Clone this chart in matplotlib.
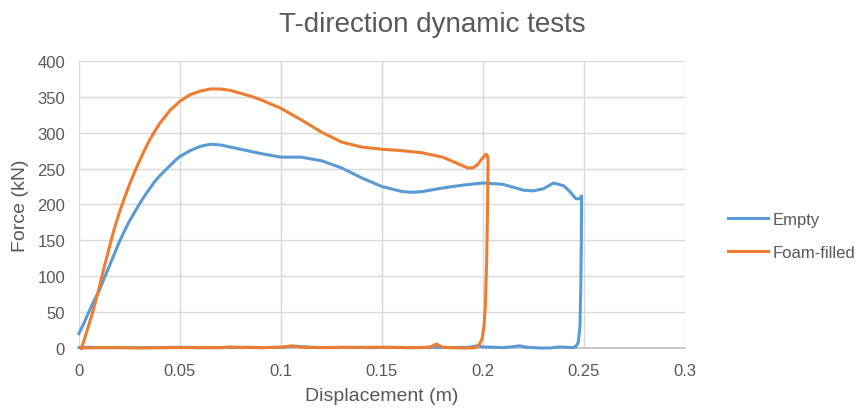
import matplotlib
matplotlib.use("Agg")
import matplotlib.pyplot as plt

plt.rcParams["font.family"] = ["Liberation Sans", "DejaVu Sans"]

# ── data (displacement in m, force in kN) ──
# Empty: loading branch, sudden drop, then return along ~0
empty_x = [0, 0.0025, 0.005, 0.0075, 0.01, 0.0125, 0.015, 0.0175, 0.02, 0.0225,
           0.025, 0.0275, 0.03, 0.0325, 0.035, 0.0375, 0.04, 0.0425, 0.045, 0.0475,
           0.05, 0.055, 0.06, 0.065, 0.07, 0.075, 0.08, 0.09, 0.1, 0.11,
           0.12, 0.13, 0.14, 0.15, 0.16, 0.165, 0.17, 0.18, 0.19, 0.2,
           0.205, 0.21, 0.215, 0.22, 0.225, 0.23, 0.235, 0.24, 0.243, 0.246,
           0.2478, 0.2488,
           0.2487, 0.2484, 0.248, 0.2472, 0.246, 0.2445,
           0.238, 0.233, 0.228, 0.222, 0.218, 0.214, 0.21, 0.205, 0.2, 0.197,
           0.193, 0.185, 0.175, 0.165, 0.155, 0.145, 0.135, 0.125, 0.115, 0.107,
           0.1, 0.09, 0.08, 0.07, 0.06, 0.05, 0.04, 0.03, 0.02, 0.01, 0.005, 0]
empty_f = [20, 35, 51, 66, 80, 97, 114, 131, 148, 163,
           177, 189, 201, 212, 222, 232, 240, 247, 254, 261,
           267, 275, 281, 284, 283, 280, 277, 271, 266, 266,
           261, 251, 237, 225, 218, 217, 218, 223, 227, 230,
           229, 228, 224, 220, 219, 222, 230, 226, 218, 208,
           208, 212,
           150, 80, 30, 8, 2, 0.5,
           1.5, 0, 0, 1, 3, 1.5, 0.5, 1, 1.5, 3,
           1, 0.5, 1, 0.5, 1, 0.5, 1, 0.5, 1, 2.5,
           1, 0.5, 1, 0.5, 0.5, 1, 0.5, 0.5, 0.5, 0.5, 1, 0.5]

# Foam-filled
foam_x = [0.0013, 0.004, 0.007, 0.01, 0.0125, 0.015, 0.0175, 0.02, 0.0225, 0.025,
          0.0275, 0.03, 0.0325, 0.035, 0.0375, 0.04, 0.045, 0.05, 0.055, 0.06,
          0.065, 0.07, 0.075, 0.08, 0.085, 0.09, 0.1, 0.11, 0.12, 0.13,
          0.14, 0.15, 0.16, 0.17, 0.18, 0.185, 0.19, 0.1925, 0.195, 0.1975,
          0.199, 0.2005, 0.2015, 0.2022, 0.2025,
          0.2023, 0.2018, 0.2012, 0.2005, 0.1995, 0.198, 0.1965, 0.195,
          0.19, 0.185, 0.18, 0.177, 0.174, 0.17, 0.16, 0.15, 0.14, 0.135,
          0.13, 0.12, 0.11, 0.105, 0.1, 0.09, 0.085, 0.08, 0.075, 0.07,
          0.06, 0.05, 0.04, 0.03, 0.02, 0.01, 0.0013]
foam_f = [0, 24, 52, 84, 113, 140, 166, 189, 209, 228,
          245, 261, 276, 290, 302, 313, 331, 344, 353, 358,
          361, 361, 359, 355, 351, 346, 334, 318, 301, 287,
          280, 277, 275, 272, 266, 260, 254, 251, 251, 256,
          262, 267, 270, 268, 262,
          200, 120, 60, 30, 12, 4, 1, 0,
          0, 0.5, 1, 5.5, 1.5, 0.5, 0.5, 1, 1, 0.5,
          1, 0.5, 1, 3, 1, 0.5, 1, 0.5, 1.5, 0.5,
          0.5, 0.5, 0.5, 0, 0.5, 0.5, 0]

x_ticks = [0, 0.05, 0.1, 0.15, 0.2, 0.25, 0.3]
x_tick_labels = ["0", "0.05", "0.1", "0.15", "0.2", "0.25", "0.3"]
y_ticks = [0, 50, 100, 150, 200, 250, 300, 350, 400]

text_col = "#595959"
grid_col = "#D9D9D9"

fig = plt.figure(figsize=(8.64, 4.10), dpi=100)
ax = fig.add_axes([0.0914, 0.1488, 0.7014, 0.70])

ax.plot(empty_x, empty_f, color="#5B9BD5", lw=2.2, label="Empty",
        clip_on=False, solid_joinstyle="round", zorder=3)
ax.plot(foam_x, foam_f, color="#ED7D31", lw=2.2, label="Foam-filled",
        clip_on=False, solid_joinstyle="round", zorder=4)

ax.set_xlim(0, 0.3)
ax.set_ylim(0, 400)
ax.set_xticks(x_ticks)
ax.set_xticklabels(x_tick_labels)
ax.set_yticks(y_ticks)
ax.tick_params(length=0, labelsize=12, colors=text_col)
ax.tick_params(axis="x", pad=11)
ax.tick_params(axis="y", pad=10)

ax.grid(True, color=grid_col, lw=1)
ax.set_axisbelow(True)
for s in ["top", "right", "left"]:
    ax.spines[s].set_visible(False)
ax.spines["bottom"].set_color("#BFBFBF")
ax.spines["bottom"].set_linewidth(1.2)

ax.set_xlabel("Displacement (m)", fontsize=14, color=text_col, labelpad=6)
ax.set_ylabel("Force (kN)", fontsize=14, color=text_col, labelpad=6)
fig.text(0.5, 0.94, "T-direction dynamic tests", ha="center", va="center",
         fontsize=20, color=text_col)

leg = ax.legend(loc="center left", bbox_to_anchor=(0.843, 0.422),
                bbox_transform=fig.transFigure, frameon=False, fontsize=12,
                handlelength=2.4, handletextpad=0.25, labelspacing=1.1,
                borderaxespad=0, borderpad=0)
for t in leg.get_texts():
    t.set_color(text_col)

fig.savefig("out.png", dpi=100)
